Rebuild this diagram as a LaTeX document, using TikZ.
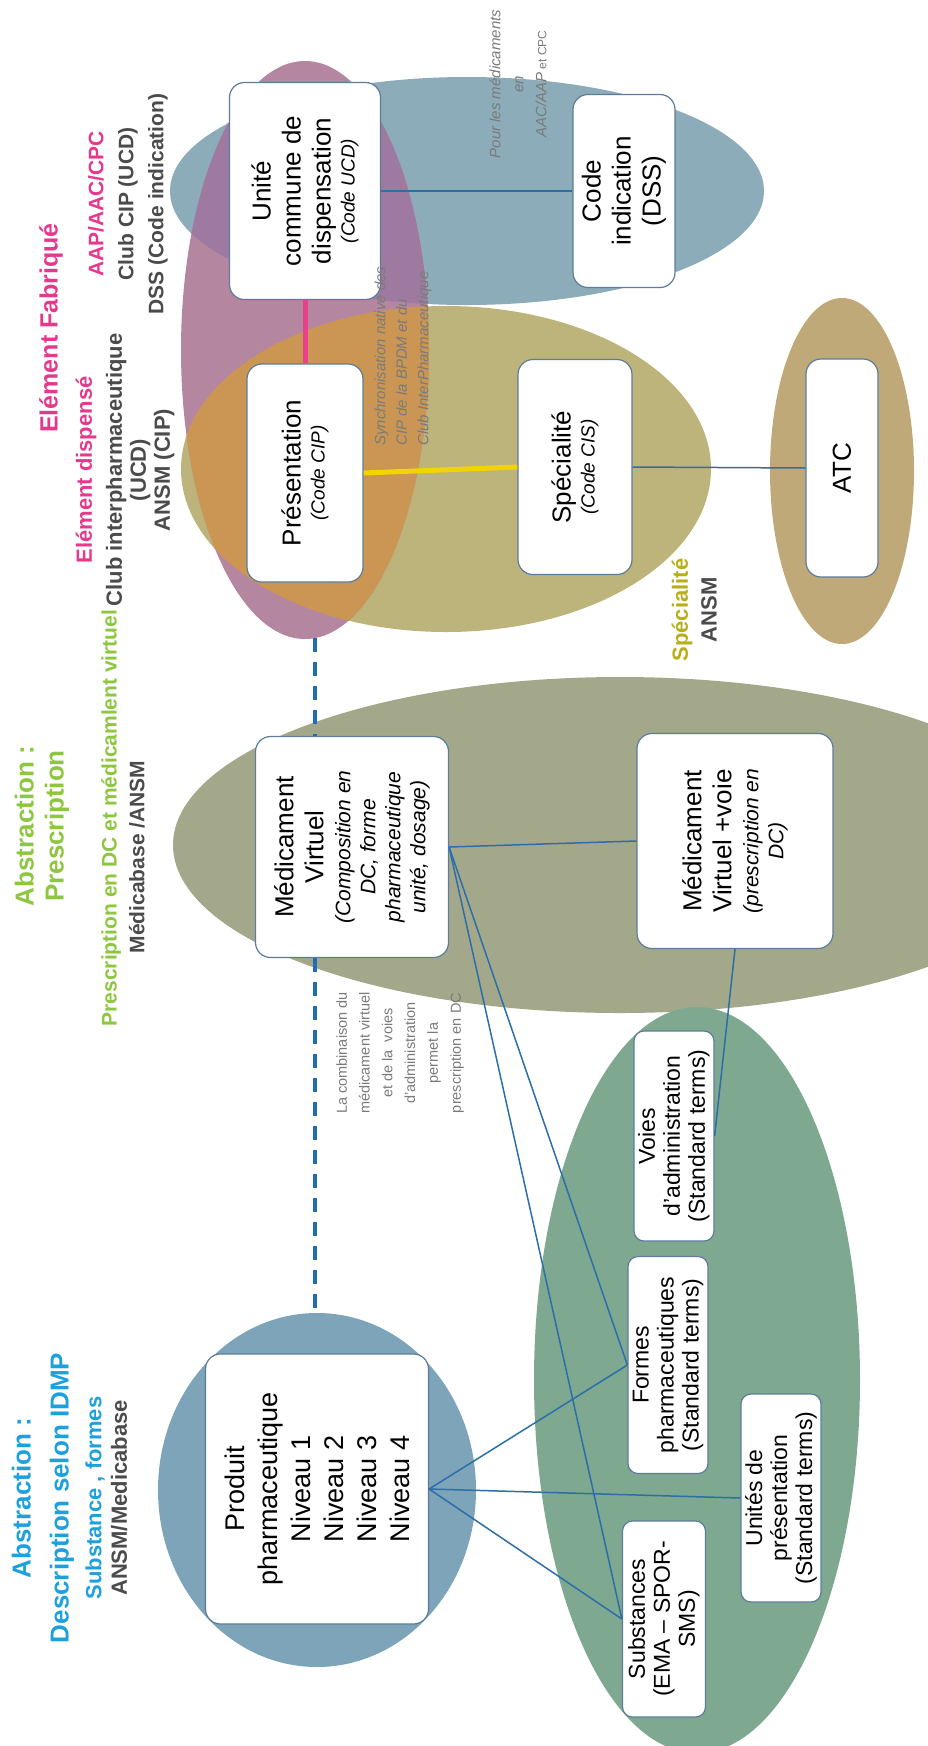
\documentclass[tikz,border=0pt]{standalone}
\usepackage{fontspec}
\setmainfont{Liberation Sans}
\usetikzlibrary{calc}
\definecolor{cBlueTop}{HTML}{8CACBA}
\definecolor{cPink}{HTML}{B5869F}
\definecolor{cPurple}{HTML}{9E7AA0}
\definecolor{cOlive}{HTML}{BCB47A}
\definecolor{cOrange}{HTML}{CB9654}
\definecolor{cATC}{HTML}{C0A978}
\definecolor{cMV}{HTML}{A3A88A}
\definecolor{cCirc}{HTML}{7DA4B9}
\definecolor{cGreen}{HTML}{7FA891}
\definecolor{boxb}{HTML}{5C7C99}
\definecolor{lineb}{HTML}{2C6FA8}
\definecolor{dashb}{HTML}{1F6DB6}
\definecolor{cPinkLine}{HTML}{E8408A}
\definecolor{cYellow}{HTML}{F2D400}
\definecolor{cPinkT}{HTML}{E6398E}
\definecolor{cGreenT}{HTML}{8DC63F}
\definecolor{cBlueT}{HTML}{1DA1DD}
\definecolor{cGray}{HTML}{4B4B4B}
\definecolor{cSpecT}{HTML}{B8AE17}
\definecolor{cNote}{HTML}{7A7A7A}
\newcommand{\subl}[1]{{\itshape\fontsize{21}{25}\selectfont #1}}
\newcommand{\subm}[1]{{\itshape\fontsize{19}{23}\selectfont #1}}
\begin{document}
\begin{tikzpicture}[x=1pt,y=-1pt,
  box/.style={draw=boxb, line width=1.2pt, fill=white, rounded corners=15pt, rotate=90, inner sep=0pt, align=center, font=\fontsize{26}{30}\selectfont},
  sbox/.style={box, rounded corners=10pt, font=\fontsize{23}{25}\selectfont},
  conn/.style={draw=lineb, line width=1.5pt},
  dsh/.style={draw=dashb, line width=3.5pt, dash pattern=on 14pt off 10pt},
  pinkconn/.style={draw=cPinkLine, line width=5pt},
  yelconn/.style={draw=cYellow, line width=5pt},
  ttl/.style={rotate=90, inner sep=0pt, align=center},
  note/.style={rotate=90, inner sep=0pt, text=cNote}
]
\useasboundingbox (0,0) rectangle (928,1746);
\clip (0,0) rectangle (928,1746);

% ---------- ellipses ----------
\fill[cMV] (620,845) ellipse [x radius=447pt, y radius=168pt];
\fill[cBlueTop] (467,191) ellipse [x radius=297pt, y radius=114pt];
\fill[cOlive] (446,469) ellipse [x radius=265pt, y radius=163pt];
\fill[cPink] (305,350) ellipse [x radius=124pt, y radius=289pt];
\begin{scope}
  \clip (305,350) ellipse [x radius=124pt, y radius=289pt];
  \fill[cPurple] (467,191) ellipse [x radius=297pt, y radius=114pt];
  \fill[cOrange] (446,469) ellipse [x radius=265pt, y radius=163pt];
\end{scope}
\fill[cATC] (842,471) ellipse [x radius=72pt, y radius=173pt];
\fill[cCirc] (317,1490) ellipse [x radius=159pt, y radius=177pt];
\fill[cGreen] (697,1380) ellipse [x radius=163pt, y radius=373pt];

% ---------- boxes ----------
\node[box, minimum width=217pt, minimum height=151pt] (ucd) at (305,191)
  {Unité\\commune de\\dispensation\\[-6pt]\subm{(Code UCD)}};
\node[box, minimum width=193pt, minimum height=102pt] (codeind) at (624,191)
  {Code\\indication\\(DSS)};
\node[box, minimum width=218pt, minimum height=116pt] (pres) at (305,473)
  {Présentation\\[-6pt]\subm{(Code CIP)}};
\node[box, minimum width=215pt, minimum height=114pt] (spec) at (575,467)
  {Spécialité\\[-6pt]\subm{(Code CIS)}};
\node[box, minimum width=218pt, minimum height=72pt] (atc) at (842,468) {ATC};
\node[box, minimum width=221pt, minimum height=193pt] (mv) at (352,847)
  {Médicament\\Virtuel\\[-3pt]\subl{(Composition en}\\[-5pt]\subl{DC, forme}\\[-5pt]\subl{pharmaceutique}\\[-5pt]\subl{unité, dosage)}};
\node[box, minimum width=215pt, minimum height=196pt] (mvv) at (735,841)
  {Médicament\\Virtuel +voie\\[-3pt]\subl{(prescription en}\\[-5pt]\subl{DC)}};
\node[box, minimum width=270pt, minimum height=223pt, font=\fontsize{27}{33}\selectfont] (prod) at (317,1489)
  {Produit\\pharmaceutique\\Niveau 1\\Niveau 2\\Niveau 3\\Niveau 4};
\node[sbox, minimum width=210pt, minimum height=80pt] (voies) at (674,1136)
  {Voies\\d’administration\\(Standard terms)};
\node[sbox, minimum width=217pt, minimum height=80pt] (formes) at (668,1365)
  {Formes\\pharmaceutiques\\(Standard terms)};
\node[sbox, minimum width=208pt, minimum height=80pt] (unites) at (781,1498)
  {Unités de\\présentation\\(Standard terms)};
\node[sbox, minimum width=196pt, minimum height=83pt] (subst) at (664,1619)
  {Substances\\(EMA – SPOR-\\SMS)};

% ---------- connectors ----------
\draw[conn] (ucd.south) -- (codeind.north);
\draw[pinkconn] (ucd.west) -- (pres.east);
\draw[yelconn] (pres.south) -- (spec.north);
\draw[conn] (spec.south) -- (atc.north);
\coordinate (pinkbot) at (315,638);
\draw[dsh] (pinkbot) -- (pinkbot |- mv.east);
\coordinate (circtop) at (315,1313);
\draw[dsh] (circtop |- mv.west) -- (circtop);
\draw[conn] (mv.south) -- (mvv.north);
\draw[conn] (mv.south) -- (formes.north);
\draw[conn] (mv.south) -- (subst.north);
\draw[conn] (voies.south) -- (mvv.west);
\draw[conn] (prod.south) -- (formes.north);
\draw[conn] (prod.south) -- (unites.north);
\draw[conn] (prod.south) -- (subst.north);

% ---------- notes ----------
\node[note, align=left, anchor=west, font=\itshape\fontsize{15}{21.5}\selectfont] (sync) at (403,446)
  {Synchronisation native des\\CIP de la BPDM et du\\Club InterPharmaceutique};
\node[note, align=center, font=\itshape\fontsize{15}{23}\selectfont] (pour) at (518,84)
  {Pour les médicaments\\en\\AAC/AAP{\upshape\fontsize{12}{14}\selectfont{} et CPC}};
\node[note, align=center, font=\fontsize{14.5}{22.8}\selectfont] (combi) at (400,1053)
  {La combinaison du\\médicament virtuel\\et de la\ \ voies\\d’administration\\permet la\\prescription en DC};

% ---------- titles ----------
\node[ttl, text=cPinkT, font=\bfseries\fontsize{25}{30}\selectfont] (tfab) at (51,328) {Elément Fabriqué};
\node[ttl, text=cGray, font=\bfseries\fontsize{21}{30}\selectfont] (taap) at (128,204)
  {\textcolor{cPinkT}{AAP/AAC/CPC}\\Club CIP (UCD)\\DSS (Code indication)};
\node[ttl, text=cGray, font=\bfseries\fontsize{22}{24}\selectfont] (tdisp) at (125,470)
  {\textcolor{cPinkT}{Elément dispensé}\\[6pt]Club interpharmaceutique\\(UCD)\\ANSM (CIP)};
\node[ttl, text=cGreenT, font=\bfseries\fontsize{26}{30}\selectfont] (tabs1) at (42,826) {Abstraction :\\Prescription};
\node[ttl, text=cGreenT, font=\bfseries\fontsize{21}{25}\selectfont] (tpdc) at (111,818) {Prescription en DC et médicamlent virtuel};
\node[ttl, text=cGray, font=\bfseries\fontsize{21}{25}\selectfont] (tmedi) at (137,857) {Médicabase /ANSM};
\node[ttl, text=cBlueT, font=\bfseries\fontsize{26}{38}\selectfont] (tabs2) at (43,1498) {Abstraction :\\Description selon IDMP};
\node[ttl, text=cBlueT, font=\bfseries\fontsize{22}{25}\selectfont] (tsub) at (95,1498) {Substance , formes};
\node[ttl, text=cGray, font=\bfseries\fontsize{22}{25}\selectfont] (tansm) at (119,1498) {ANSM/Medicabase};
\node[ttl, text=cSpecT, font=\bfseries\fontsize{22}{25}\selectfont] (tspec) at (682,610) {Spécialité};
\node[ttl, text=cGray, font=\bfseries\fontsize{22}{25}\selectfont] (tspecansm) at (709,610) {ANSM};
\end{tikzpicture}
\end{document}
